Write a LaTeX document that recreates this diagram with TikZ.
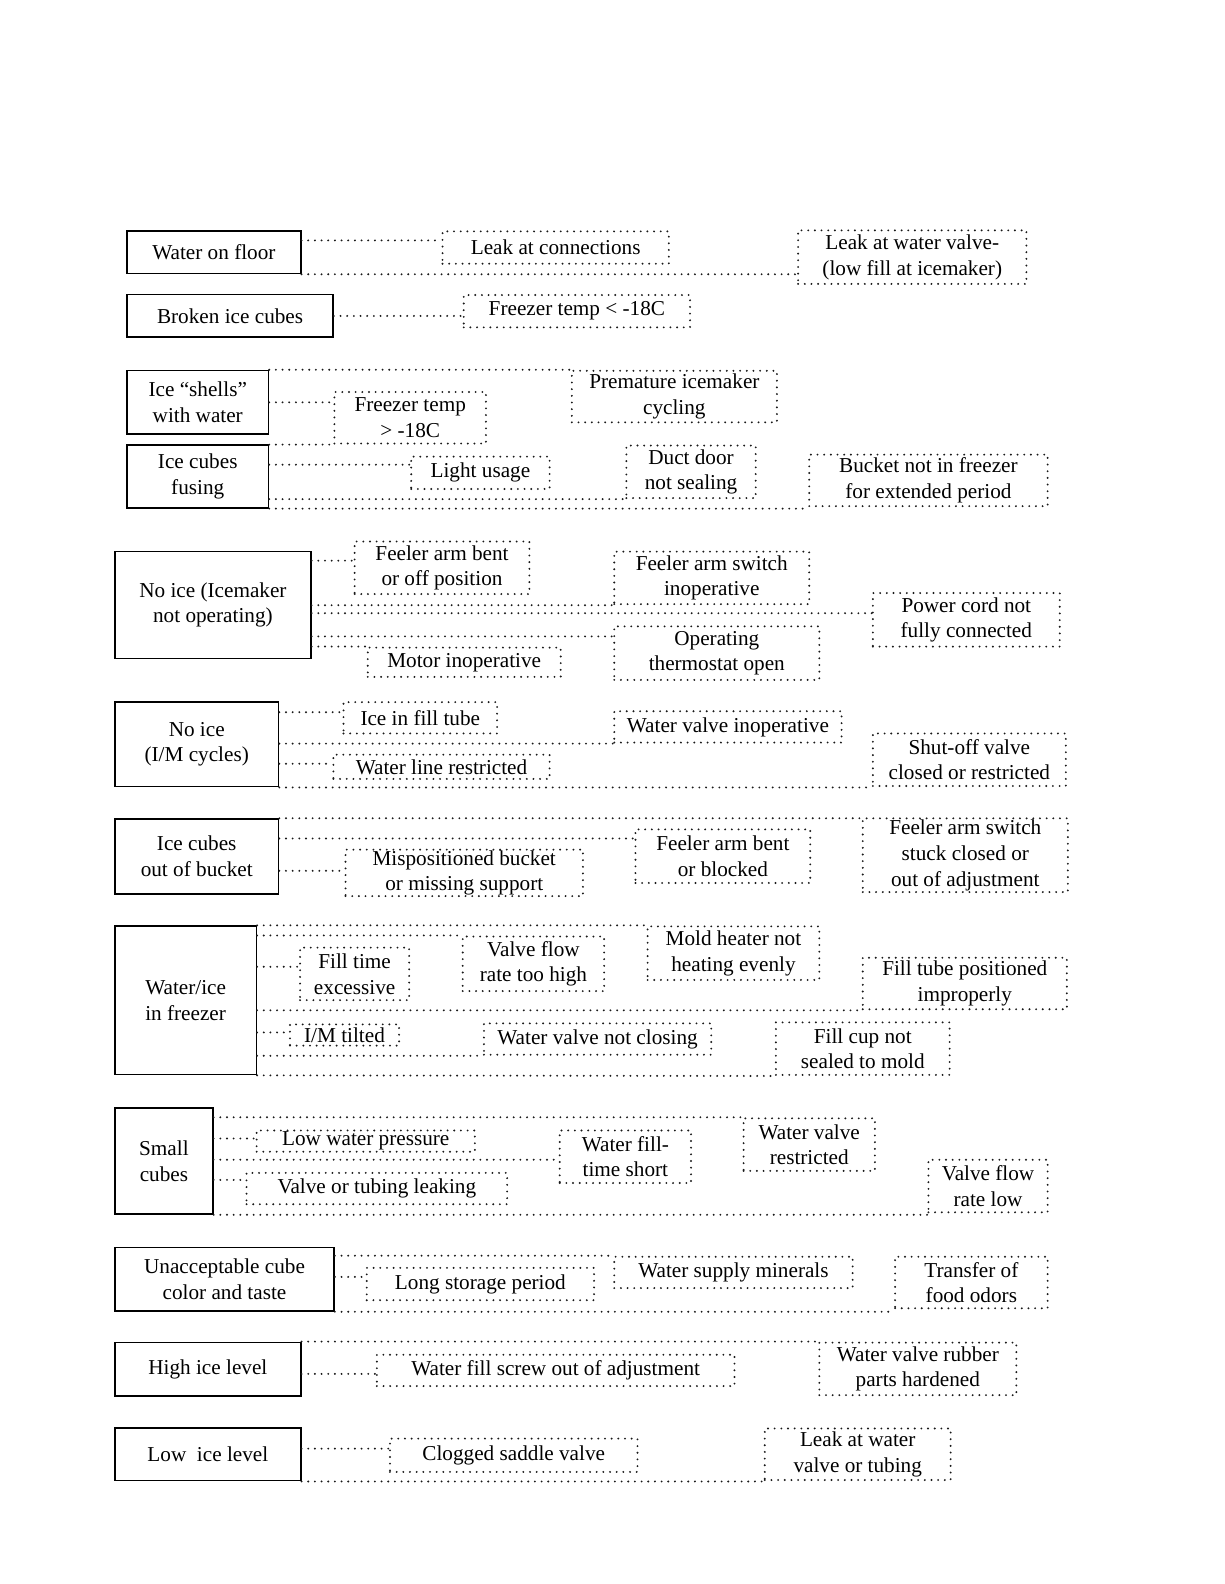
\documentclass[tikz,border=0pt]{standalone}
\usepackage{xcolor}
\usepackage{tikz}
\usepackage{fontspec}
\setmainfont{Liberation Serif}
\usetikzlibrary{positioning, calc}
\definecolor{dotgrey}{RGB}{25, 25, 25}

\tikzset{
    symptom/.style={draw=black, line width=1.5pt, anchor=north west, align=center,
                    inner xsep=2pt, inner ysep=0pt},
    cause/.style={draw=dotgrey, line width=2.1pt, dash pattern=on 0pt off 6.6pt, line cap=round,
                  anchor=north west, align=center, inner xsep=2pt, inner ysep=0pt},
    link/.style={draw=dotgrey, line width=2.1pt, dash pattern=on 0pt off 6.6pt, line cap=round}
}

\begin{document}
\begin{tikzpicture}[x=1pt, y=-1pt, font=\fontsize{21}{25.5}\selectfont]
    \useasboundingbox (0,0) rectangle (1212,1568);

    % water on floor / broken cubes
    \node[symptom, minimum width=172pt, minimum height=42pt] (floor) at (125,228) {Water on floor};
    \node[cause, minimum width=224pt, minimum height=32pt] (leakconn) at (437,228) {Leak at connections};
    \node[cause, minimum width=226pt, minimum height=53pt] (leakvalve) at (789,227) {Leak at water valve-\\(low fill at icemaker)};
    \node[symptom, minimum width=204pt, minimum height=42pt] (broken) at (125,291) {Broken ice cubes};
    \node[cause, minimum width=224pt, minimum height=32pt] (coldtemp) at (458,291) {Freezer temp < -18C};

    \draw[link] (floor.east |- 0,238) -- (leakconn.west |- 0,238);
    \draw[link] (floor.south east) -- (floor.south east -| leakvalve.west);
    \draw[link] (broken.east) -- (broken.east -| coldtemp.west);

    % shells / fusing
    \node[symptom, minimum width=140pt, minimum height=63pt] (shells) at (125,366) {Ice “shells”\\with water};
    \node[cause, minimum width=150pt, minimum height=51pt] (warmtemp) at (330,387) {Freezer temp\\> -18C};
    \node[cause, minimum width=203pt, minimum height=51pt] (premature) at (565,366) {Premature icemaker\\cycling};
    \node[symptom, minimum width=140pt, minimum height=62pt] (fusing) at (125,440) {Ice cubes\\fusing};
    \node[cause, minimum width=137pt, minimum height=32pt] (light) at (406,451) {Light usage};
    \node[cause, minimum width=128pt, minimum height=52pt] (duct) at (619,440) {Duct door\\not sealing};
    \node[cause, minimum width=236pt, minimum height=51pt] (bucketout) at (800,449) {Bucket not in freezer\\for extended period};

    \draw[link] (shells.north east) -- (premature.north west);
    \draw[link] (shells.east) -- (shells.east -| warmtemp.west);
    \draw[link] (warmtemp.south west -| fusing.east) -- (warmtemp.south west);
    \draw[link] (fusing.east |- 0,460) -- (light.west |- 0,460);
    \draw[link] (duct.south west -| fusing.east) -- (duct.south west);
    \draw[link] (fusing.south east) -- (fusing.south east -| bucketout.west);

    % icemaker not operating
    \node[symptom, minimum width=194pt, minimum height=106pt] (notop) at (113,545) {No ice (Icemaker\\not operating)};
    \node[cause, minimum width=173pt, minimum height=52pt] (armoff) at (350,535) {Feeler arm bent\\or off position};
    \node[cause, minimum width=193pt, minimum height=52pt] (armswitch) at (607,545) {Feeler arm switch\\inoperative};
    \node[cause, minimum width=185pt, minimum height=53pt] (powercord) at (863,586) {Power cord not\\fully connected};
    \node[cause, minimum width=203pt, minimum height=53pt] (thermostat) at (607,619) {Operating\\thermostat open};
    \node[cause, minimum width=191pt, minimum height=29pt] (motor) at (363,640) {Motor inoperative};

    \draw[link] (notop.east |- 0,555) -- (armoff.west |- 0,555);
    \draw[link] (armswitch.south west -| notop.east) -- (armswitch.south west);
    \draw[link] (notop.east |- 0,607) -- (powercord.west |- 0,607);
    \draw[link] (notop.east |- 0,630) -- (thermostat.west |- 0,630);
    \draw[link] (motor.north west -| notop.east) -- (motor.north west);

    % icemaker cycles
    \node[symptom, minimum width=162pt, minimum height=84pt] (cycles) at (113,694) {No ice\\(I/M cycles)};
    \node[cause, minimum width=152pt, minimum height=31pt] (filltube) at (339,694) {Ice in fill tube};
    \node[cause, minimum width=225pt, minimum height=31pt] (valveinop) at (607,703) {Water valve inoperative};
    \node[cause, minimum width=214pt, minimum height=24pt] (waterline) at (329,746) {Water line restricted};
    \node[cause, minimum width=191pt, minimum height=52pt] (shutoff) at (863,725) {Shut-off valve\\closed or restricted};

    \draw[link] (cycles.east |- 0,705) -- (filltube.west |- 0,705);
    \draw[link] (valveinop.south west -| cycles.east) -- (valveinop.south west);
    \draw[link] (cycles.east |- 0,756) -- (waterline.west |- 0,756);
    \draw[link] (cycles.south east) -- (cycles.south east -| shutoff.west);

    % cubes out of bucket
    \node[symptom, minimum width=162pt, minimum height=74pt] (outbucket) at (113,810) {Ice cubes\\out of bucket};
    \node[cause, minimum width=235pt, minimum height=46pt] (misbucket) at (341,840) {Mispositioned bucket\\or missing support};
    \node[cause, minimum width=173pt, minimum height=53pt] (armblocked) at (628,820) {Feeler arm bent\\or blocked};
    \node[cause, minimum width=203pt, minimum height=73pt] (stuck) at (853,809) {Feeler arm switch\\stuck closed or\\out of adjustment};

    \draw[link] (outbucket.north east) -- (outbucket.north east -| stuck.west);
    \draw[link] (outbucket.east |- 0,830) -- (armblocked.west |- 0,830);
    \draw[link] (outbucket.east |- 0,862) -- (misbucket.west |- 0,862);

    % water/ice in freezer
    \node[symptom, minimum width=140pt, minimum height=147pt] (inside) at (113,916) {Water/ice\\in freezer};
    \node[cause, minimum width=108pt, minimum height=52pt] (filltime) at (296,937) {Fill time\\excessive};
    \node[cause, minimum width=140pt, minimum height=54pt] (flowhigh) at (457,926) {Valve flow\\rate too high};
    \node[cause, minimum width=170pt, minimum height=53pt] (heater) at (640,916) {Mold heater not\\heating evenly};
    \node[cause, minimum width=202pt, minimum height=51pt] (tubepos) at (853,947) {Fill tube positioned\\improperly};
    \node[cause, minimum width=108pt, minimum height=21pt] (tilted) at (286,1013) {I/M tilted};
    \node[cause, minimum width=225pt, minimum height=31pt] (notclosing) at (478,1012) {Water valve not closing};
    \node[cause, minimum width=172pt, minimum height=52pt] (fillcup) at (767,1011) {Fill cup not\\sealed to mold};

    \draw[link] (inside.north east) -- (heater.north west);
    \draw[link] (flowhigh.north west -| inside.east) -- (flowhigh.north west);
    \draw[link] (inside.east |- 0,957) -- (filltime.west |- 0,957);
    \draw[link] (tubepos.south west -| inside.east) -- (tubepos.south west);
    \draw[link] (inside.east |- 0,1022) -- (tilted.west |- 0,1022);
    \draw[link] (notclosing.south west -| inside.east) -- (notclosing.south west);
    \draw[link] (inside.south east) -- (fillcup.south west);

    % small cubes
    \node[symptom, minimum width=97pt, minimum height=105pt] (small) at (113,1096) {Small\\cubes};
    \node[cause, minimum width=216pt, minimum height=21pt] (pressure) at (253,1118) {Low water pressure};
    \node[cause, minimum width=258pt, minimum height=31pt] (leaking) at (243,1160) {Valve or tubing leaking};
    \node[cause, minimum width=130pt, minimum height=52pt] (fillshort) at (553,1118) {Water fill-\\time short};
    \node[cause, minimum width=130pt, minimum height=52pt] (restricted) at (735,1106) {Water valve\\restricted};
    \node[cause, minimum width=118pt, minimum height=52pt] (flowlow) at (918,1147) {Valve flow\\rate low};

    \draw[link] (restricted.north west -| small.east) -- (restricted.north west);
    \draw[link] (small.east |- 0,1127) -- (pressure.west |- 0,1127);
    \draw[link] (small.east |- 0,1148) -- (fillshort.west |- 0,1148);
    \draw[link] (small.east |- 0,1168) -- (leaking.west |- 0,1168);
    \draw[link] (small.south east) -- (small.south east -| flowlow.west);

    % colour and taste
    \node[symptom, minimum width=217pt, minimum height=63pt] (taste) at (113,1234) {Unacceptable cube\\color and taste};
    \node[cause, minimum width=225pt, minimum height=32pt] (storage) at (362,1254) {Long storage period};
    \node[cause, minimum width=236pt, minimum height=31pt] (minerals) at (607,1243) {Water supply minerals};
    \node[cause, minimum width=151pt, minimum height=51pt] (odors) at (885,1243) {Transfer of\\food odors};

    \draw[link] (minerals.north west -| taste.east) -- (minerals.north west);
    \draw[link] (taste.east |- 0,1264) -- (storage.west |- 0,1264);
    \draw[link] (taste.south east) -- (taste.south east -| odors.west);

    % ice level
    \node[symptom, minimum width=184pt, minimum height=53pt] (high) at (113,1328) {High ice level};
    \node[cause, minimum width=354pt, minimum height=31pt] (screw) at (372,1340) {Water fill screw out of adjustment};
    \node[cause, minimum width=195pt, minimum height=52pt] (rubber) at (810,1328) {Water valve rubber\\parts hardened};
    \node[symptom, minimum width=184pt, minimum height=52pt] (low) at (113,1413) {Low\ \ ice level};
    \node[cause, minimum width=245pt, minimum height=33pt] (saddle) at (385,1423) {Clogged saddle valve};
    \node[cause, minimum width=184pt, minimum height=51pt] (leaktubing) at (756,1413) {Leak at water\\valve or tubing};

    \draw[link] (high.north east) -- (rubber.north west);
    \draw[link] (high.east |- 0,1360) -- (screw.west |- 0,1360);
    \draw[link] (low.east |- 0,1434) -- (saddle.west |- 0,1434);
    \draw[link] (low.south east) -- (low.south east -| leaktubing.west);
\end{tikzpicture}
\end{document}
